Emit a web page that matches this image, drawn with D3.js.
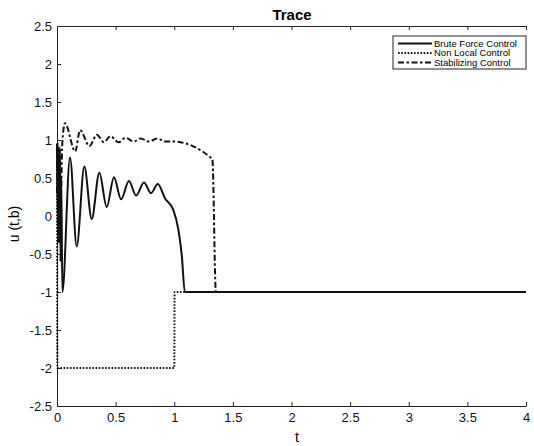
<!DOCTYPE html>
<html>
<head>
<meta charset="utf-8">
<script src="https://cdn.jsdelivr.net/npm/d3@7"></script>
<style>
  body { margin: 0; background: #fff; }
  svg { font-family: "Liberation Sans", Arial, Helvetica, sans-serif; }
</style>
</head>
<body>
<script>
// chart data
var seriesNames = ["Brute Force Control", "Non Local Control", "Stabilizing Control"];

var bruteT = [0, 0.006, 0.012, 0.018, 0.024, 0.03, 0.036, 0.046, 0.111, 0.168, 0.233, 0.296, 0.361, 0.424,
              0.486, 0.546, 0.614, 0.674, 0.742, 0.802, 0.859, 0.922, 0.992, 1.035, 1.065, 1.09, 4];
var bruteU = [0.95, -0.1, 0.9, -0.35, 0.85, -0.6, 0.5, -1.0, 0.77, -0.40, 0.65, -0.04, 0.57, 0.12,
              0.51, 0.22, 0.46, 0.27, 0.44, 0.30, 0.42, 0.23, 0.08, -0.18, -0.53, -1.0, -1.0];

var nonLocalT = [0, 0.003, 1.0, 1.003, 4];
var nonLocalU = [0.95, -2, -2, -1, -1];

var stabT = [0, 0.008, 0.016, 0.024, 0.032, 0.045, 0.068, 0.155, 0.197, 0.277, 0.34, 0.40, 0.455, 0.526,
             0.584, 0.655, 0.712, 0.784, 0.855, 0.927, 0.985, 1.325, 1.355, 4];
var stabU = [0.3, 0.95, -0.35, 0.9, 0.2, 0.95, 1.22, 0.85, 1.13, 0.92, 1.07, 0.97, 1.05, 0.97,
             1.03, 0.98, 1.02, 0.98, 1.02, 0.98, 0.98, 0.75, -1.0, -1.0];

var xTicks = [0, 0.5, 1, 1.5, 2, 2.5, 3, 3.5, 4];
var yTicks = [-2.5, -2, -1.5, -1, -0.5, 0, 0.5, 1, 1.5, 2, 2.5];

//setting the width and height
var width = 534,
    height = 446;

var svg = d3.select("body").append("svg")
    .attr("width", width)
    .attr("height", height);

var x = d3.scaleLinear().domain([0, 4]).range([57, 526]);
var y = d3.scaleLinear().domain([-2.5, 2.5]).range([406, 26]);

var fmt = function(d) { return String(d); };

//axes with inward ticks
svg.append("g")
    .attr("transform", "translate(0," + y(-2.5) + ")")
    .call(d3.axisBottom(x).tickValues(xTicks).tickFormat(fmt).tickSizeInner(-4).tickSizeOuter(0).tickPadding(7));

svg.append("g")
    .attr("transform", "translate(0," + y(2.5) + ")")
    .call(d3.axisTop(x).tickValues(xTicks).tickFormat("").tickSizeInner(-4).tickSizeOuter(0));

svg.append("g")
    .attr("transform", "translate(" + x(0) + ",0)")
    .call(d3.axisLeft(y).tickValues(yTicks).tickFormat(fmt).tickSizeInner(-4).tickSizeOuter(0).tickPadding(5));

svg.selectAll(".domain").attr("stroke", "#222").attr("stroke-width", 1);
svg.selectAll(".tick line").attr("stroke", "#222");
svg.selectAll(".tick text").attr("font-size", 13).attr("fill", "#111")
    .attr("font-family", "'Liberation Sans', Arial, sans-serif");

//the three traces
var series = [
  { t: bruteT, u: bruteU, dash: null },
  { t: nonLocalT, u: nonLocalU, dash: "1.6,1.6" },
  { t: stabT, u: stabU, dash: "6,2.5,2.5,2.5" }
];

var line = d3.line()
    .x(function(d) { return x(d[0]); })
    .y(function(d) { return y(d[1]); })
    .curve(d3.curveMonotoneX);

svg.selectAll("path.trace")
    .data(series)
    .enter().append("path")
    .attr("class", "trace")
    .attr("d", function(s) { return line(s.t.map(function(t, i) { return [t, s.u[i]]; })); })
    .attr("fill", "none")
    .attr("stroke", "#111")
    .attr("stroke-width", 2)
    .attr("stroke-dasharray", function(s) { return s.dash; });

//title and axis labels
svg.append("text")
    .attr("x", 292).attr("y", 20)
    .attr("text-anchor", "middle")
    .attr("font-size", 15).attr("font-weight", "bold")
    .text("Trace");

svg.append("text")
    .attr("x", 297).attr("y", 442)
    .attr("text-anchor", "middle")
    .attr("font-size", 14)
    .text("t");

svg.append("text")
    .attr("transform", "translate(19,224) rotate(-90)")
    .attr("text-anchor", "middle")
    .attr("font-size", 14)
    .text("u (t,b)");

//legend
var legend = svg.append("g").attr("transform", "translate(393,36)");
legend.append("rect")
    .attr("width", 133).attr("height", 33)
    .attr("fill", "#fff").attr("stroke", "#222").attr("stroke-width", 1);

var rows = legend.selectAll("g.row")
    .data(series)
    .enter().append("g")
    .attr("class", "row")
    .attr("transform", function(d, i) { return "translate(0," + (7.5 + i * 9.5) + ")"; });

rows.append("line")
    .attr("x1", 5).attr("x2", 39)
    .attr("stroke", "#111").attr("stroke-width", 2)
    .attr("stroke-dasharray", function(d) { return d.dash; });

rows.append("text")
    .attr("x", 41).attr("dy", "0.35em")
    .attr("font-size", 9.5)
    .text(function(d, i) { return seriesNames[i]; });
</script>
</body>
</html>
